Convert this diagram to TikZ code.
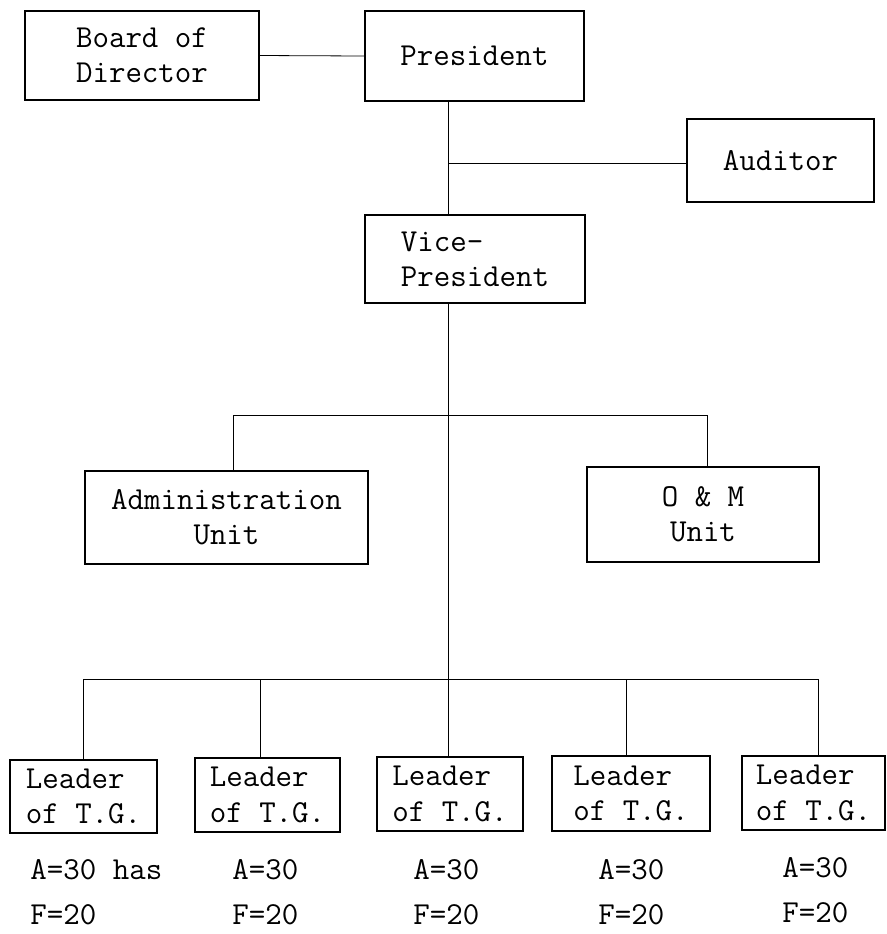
\documentclass[tikz,border=0pt]{standalone}
\usepackage{tikz}
\pgfdeclarelayer{nodelayer}
\pgfdeclarelayer{edgelayer}
\pgfsetlayers{nodelayer, edgelayer, main}
\tikzset{
  box/.style={draw, line width=0.9pt, inner sep=0pt, align=center, font=\fontsize{16}{17.6}\selectfont\ttfamily},
  tgnote/.style={anchor=north west, inner sep=0pt, align=left, font=\fontsize{16}{22.5}\selectfont\ttfamily}
}

\begin{document}
\begin{tikzpicture} [x=0.5pt, y=-0.5pt, line width=0.8pt]
    \useasboundingbox (0,0) rectangle (887,934);
	\begin{pgfonlayer}{nodelayer}
        \node[box, minimum width=117pt, minimum height=44.5pt] (1) at (142,55.5) {Board of\\Director};
        \node[box, minimum width=109.5pt, minimum height=45pt] (2) at (474.5,56) {President};
        \node[box, align=left, minimum width=110pt, minimum height=44pt] (3) at (475,259) {Vice-\\President};
        \node[box, minimum width=93.5pt, minimum height=41.5pt] (4) at (780.5,160.5) {Auditor};
        \node[box, minimum width=141.5pt, minimum height=46.5pt] (5) at (226.5,517.5) {Administration\\Unit};
        \node[box, minimum width=116pt, minimum height=47.5pt] (6) at (703,514.5) {O \& M\\Unit};
        \node[box, align=left, minimum width=73.5pt, minimum height=36.5pt] (7) at (83.5,796.5) {Leader\\of T.G.};
        \node[box, align=left, minimum width=72.5pt, minimum height=37pt] (8) at (267.5,795) {Leader\\of T.G.};
        \node[box, align=left, minimum width=73pt, minimum height=37pt] (9) at (450,794) {Leader\\of T.G.};
        \node[box, align=left, minimum width=79pt, minimum height=37.5pt] (10) at (631,793.5) {Leader\\of T.G.};
        \node[box, align=left, minimum width=71.5pt, minimum height=37pt] (11) at (813.5,793) {Leader\\of T.G.};
        \node[tgnote] (12) at (30,859) {A=30 has\\F=20};
        \node[tgnote] (13) at (232,859) {A=30\\F=20};
        \node[tgnote] (14) at (413,859) {A=30\\F=20};
        \node[tgnote] (15) at (598,859) {A=30\\F=20};
        \node[tgnote] (16) at (782,857) {A=30\\F=20};
        \coordinate (c1) at (448,163);
        \coordinate (c2) at (233,415);
        \coordinate (c3) at (707,415);
        \coordinate (c4) at (83,679);
        \coordinate (c5) at (260,679);
        \coordinate (c6) at (626,679);
        \coordinate (c7) at (818,679);
	\end{pgfonlayer}
	\begin{pgfonlayer}{edgelayer}
        \draw (1.east) -- (2.west);
        \draw (2.south -| c1) -- (3.north -| c1);
        \draw (c1) -- (c1 -| 4.west);
        \draw (3.south -| c1) -- (9.north -| c1);
        \draw (5.north -| c2) -- (c2) -- (c3) -- (6.north -| c3);
        \draw (7.north -| c4) -- (c4) -- (c7) -- (11.north -| c7);
        \draw (c5) -- (8.north -| c5);
        \draw (c6) -- (10.north -| c6);
	\end{pgfonlayer}
    \end{tikzpicture}
\end{document}
